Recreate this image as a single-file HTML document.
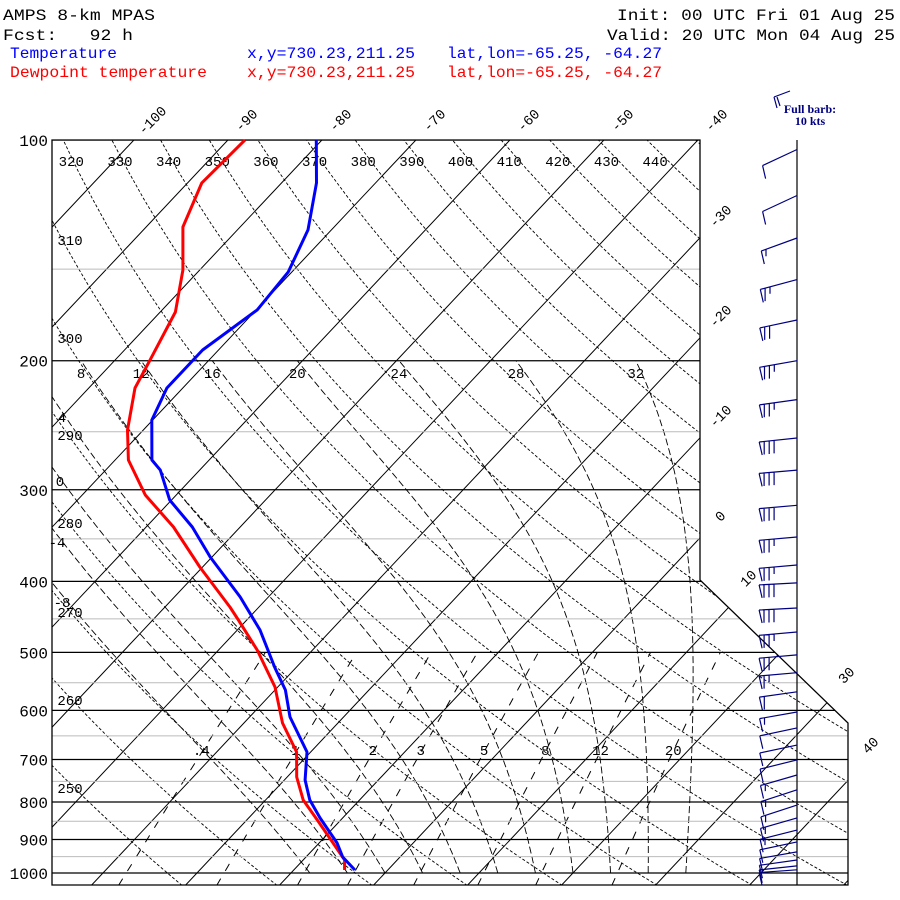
<!DOCTYPE html>
<html><head><meta charset="utf-8">
<style>
html,body{margin:0;padding:0;background:#fff;}
svg{display:block;font-family:"Liberation Mono","DejaVu Sans Mono",monospace;}
</style></head>
<body>
<svg id="chart" width="900" height="900" viewBox="0 0 900 900" xmlns="http://www.w3.org/2000/svg">
<defs><clipPath id="plotclip"><polygon points="52,140 700,140 700,580 848,723 848,885 52,885"/></clipPath></defs>
<g font-size="16">
<text x="3" y="20" textLength="152" lengthAdjust="spacingAndGlyphs">AMPS 8-km MPAS</text>
<text x="3" y="40" textLength="130" lengthAdjust="spacingAndGlyphs" xml:space="preserve">Fcst:   92 h</text>
<text x="617" y="20" textLength="278" lengthAdjust="spacingAndGlyphs">Init: 00 UTC Fri 01 Aug 25</text>
<text x="607" y="40" textLength="288" lengthAdjust="spacingAndGlyphs">Valid: 20 UTC Mon 04 Aug 25</text>
<text x="10" y="58" fill="#0000ff" textLength="107" lengthAdjust="spacingAndGlyphs">Temperature</text>
<text x="247" y="58" fill="#0000ff" textLength="168" lengthAdjust="spacingAndGlyphs">x,y=730.23,211.25</text>
<text x="447" y="58" fill="#0000ff" textLength="215" lengthAdjust="spacingAndGlyphs">lat,lon=-65.25, -64.27</text>
<text x="10" y="77" fill="#ff0000" textLength="197" lengthAdjust="spacingAndGlyphs">Dewpoint temperature</text>
<text x="247" y="77" fill="#ff0000" textLength="168" lengthAdjust="spacingAndGlyphs">x,y=730.23,211.25</text>
<text x="447" y="77" fill="#ff0000" textLength="215" lengthAdjust="spacingAndGlyphs">lat,lon=-65.25, -64.27</text>
</g>
<g id="grid"></g>
<g id="labels" font-size="14"></g>
<g id="profiles"></g>
<g id="barbs"></g>
<g>
<text x="810" y="113" font-family="Liberation Serif,serif" font-size="12" font-weight="bold" fill="#000080" text-anchor="middle">Full barb:</text>
<text x="810" y="125" font-family="Liberation Serif,serif" font-size="12" font-weight="bold" fill="#000080" text-anchor="middle">10 kts</text>
<path d="M790,91 L774,97 M774,97 L777,108 M777,97 L780,106" stroke="#000080" fill="none" stroke-width="1.2"/>
</g>
</svg>
<script>
// ---- data ----
const tempP = [100,114.4,132.6,151.3,170.5,193.4,217.9,241,273.2,282,309.8,337.2,370.5,420.2,466.1,525.2,562.7,612.6,683.8,746.7,795.1,841.3,910,951,990.6];
const tempT = [-80.6,-76.3,-72.5,-70.4,-69.9,-71.7,-71.7,-70.1,-66.1,-64.2,-60.2,-55.1,-50.2,-43.0,-37.6,-32.2,-28.9,-25.7,-20.4,-17.8,-15.3,-12.4,-8.1,-6.1,-3.5];
const dewP = [100,114.4,131.4,150.4,171.6,199.5,217.9,248.6,273.2,305,337.2,382.4,433.6,451.6,496.3,557.5,624.2,683.8,739.6,795.1,846.6,907.2,960,990.6];
const dewT = [-88.2,-88.5,-86.1,-81.8,-78.4,-76.3,-75.1,-71.7,-68.6,-63.3,-57.1,-50.3,-43.1,-40.9,-35.9,-30.3,-25.9,-21.5,-19.0,-16.0,-12.5,-8.7,-5.6,-4.6];
const barbP = [103,119,136,155,176,200,226,255,282,315,348,380,402,435,469,504,533,566,603,634,669,701,735,770,808,841,874,907,936,960,978,990];
const barbSpd = [10,10,15,25,30,35,35,40,40,40,35,35,40,40,35,30,25,20,15,10,10,10,15,15,15,15,15,10,10,10,10,10];
const barbTilt = [25,25,20,15,12,10,8,6,5,5,5,5,3,3,5,5,5,8,10,12,12,14,16,18,18,16,14,12,10,8,6,4];
const isobars = [100,200,300,400,500,600,700,800,900,1000];
const isobarsMinor = [150,250,350,450,550,650,750,850,950];
const isotherms = [-140,-130,-120,-110,-100,-90,-80,-70,-60,-50,-40,-30,-20,-10,0,10,20,30,40,50];
const topTempLabels = [-100,-90,-80,-70,-60,-50,-40];
const sideTempLabels = [-30,-20,-10,0];
const thetas = [250,260,270,280,290,300,310,320,330,340,350,360,370,380,390,400,410,420,430,440,450,460];
const topThetaLabels = [320,330,340,350,360,370,380,390,400,410,420,430,440];
const thetaW = [-8,-4,0,4,8,12,16,20,24,28,32];
const thetaWLabels = [8,12,16,20,24,28,32];
const mixRatios = [0.4,1,2,3,5,8,12,20];
const mixLabels = ['.4','1','2','3','5','8','12','20'];

// ---- axes ----
const NS='http://www.w3.org/2000/svg';
function yP(p){return 873-318.3*Math.log(1000/p);}
function xT(T,p){return 385+9.4*T+0.94*(873-yP(p));}
function xRight(y){return y<=580?700:(y<=723?700+(y-580)*148/143:848);}
function mk(tag,attrs,parent){const e=document.createElementNS(NS,tag);for(const k in attrs)e.setAttribute(k,attrs[k]);parent.appendChild(e);return e;}
const grid=document.getElementById('grid');
const labels=document.getElementById('labels');
const clipG=mk('g',{'clip-path':'url(#plotclip)'},grid);



// minor isobars
isobarsMinor.forEach(p=>{const y=yP(p);
 const l=mk('line',{x1:52,y1:y,x2:xRight(y),y2:y,stroke:'#bbbbbb','stroke-width':1},grid);
 
 
});
// isotherms
isotherms.forEach(T=>{
 const d='M'+xT(T,1000*Math.exp(-(873-885)/318.3)).toFixed(1)+','+885+' L'+xT(T,100).toFixed(1)+',140';
 const l=mk('path',{d:d,stroke:'#000','stroke-width':1,fill:'none'},clipG);
 
 
});
// dry adiabats
thetas.forEach(th=>{let d='';
 for(let p=1040;p>=100;p-=10){const T=th*Math.pow(p/1000,0.286)-273.15;d+=(d?' L':'M')+xT(T,p).toFixed(1)+','+yP(p).toFixed(1);}
 const l=mk('path',{d:d,stroke:'#000','stroke-width':0.9,fill:'none','stroke-dasharray':'3,2'},clipG);
 
 
});
// moist adiabats
function es(Tc){return 6.112*Math.exp(17.67*Tc/(Tc+243.5));}
const moistTop={};
thetaW.forEach(tw=>{let T=tw+273.15,p=1000;let d='M'+xT(tw,1000).toFixed(1)+','+yP(1000).toFixed(1);
 // extend slightly below 1000
 while(p>200){const dp=-5;const e=es(T-273.15);const rs=0.622*e/(p-e);
  const Lv=2.501e6,Rd=287,cp=1005;
  const dTdp=((Rd*T+Lv*rs)/(cp+Lv*Lv*rs*0.622/(Rd*T*T)))/p;
  T+=dTdp*dp;p+=dp;d+=' L'+xT(T-273.15,p).toFixed(1)+','+yP(p).toFixed(1);}
 moistTop[tw]=xT(T-273.15,200);
 const l=mk('path',{d:d,stroke:'#000','stroke-width':0.9,fill:'none','stroke-dasharray':'7,3'},clipG);
 
 
});
// mixing ratio lines
function tdFromW(w,p){const e=w*p/(622+w);const a=Math.log(e/6.112);return 243.5*a/(17.67-a);}
const mixX={};
mixRatios.forEach(w=>{let d='';
 for(let p=1040;p>=500;p-=20){d+=(d?' L':'M')+xT(tdFromW(w,p),p).toFixed(1)+','+yP(p).toFixed(1);}
 mixX[w]=xT(tdFromW(w,700),700);
 const l=mk('path',{d:d,stroke:'#000','stroke-width':1,fill:'none','stroke-dasharray':'8,9'},clipG);
 
 
});
// major isobars
isobars.forEach(p=>{const y=yP(p);
 const l=mk('line',{x1:52,y1:y,x2:xRight(y),y2:y,stroke:'#000','stroke-width':1.2},grid);
 
 
 const t=mk('text',{x:48,y:y+6,'text-anchor':'end','font-size':16},labels);t.textContent=p;
 
 
});
// frame
const fr=mk('polygon',{points:'52,140 700,140 700,580 848,723 848,885 52,885',fill:'none',stroke:'#000','stroke-width':1.3},grid);



// labels
topTempLabels.forEach(T=>{const x=xT(T,100)+18;
 const t=mk('text',{x:x,y:125,'text-anchor':'middle',transform:'rotate(-45 '+x+' 120)'},labels);t.textContent=T;
 
 
});
sideTempLabels.forEach(T=>{const h=(700-385-9.4*T)/0.94;const y=873-h-22;
 const t=mk('text',{x:720,y:y+5,'text-anchor':'middle',transform:'rotate(-45 720 '+y+')'},labels);t.textContent=T;
 
 
});
[[10,748,578],[30,846,675],[40,870,745]].forEach(a=>{
 const t=mk('text',{x:a[1],y:a[2]+5,'text-anchor':'middle',transform:'rotate(-45 '+a[1]+' '+a[2]+')'},labels);t.textContent=a[0];
 
 
});
topThetaLabels.forEach(th=>{const T=th*Math.pow(0.1,0.286)-273.15;const x=xT(T,100)+8;
 const t=mk('text',{x:x,y:166,'text-anchor':'middle'},labels);t.textContent=th;
 
 
});
[[310,240],[300,338],[290,435],[280,523],[270,612],[260,700],[250,788]].forEach(a=>{
 const t=mk('text',{x:70,y:a[1]+5,'text-anchor':'middle'},labels);t.textContent=a[0];
 
 
});
thetaWLabels.forEach(tw=>{const x=moistTop[tw];
 const t=mk('text',{x:x,y:378,'text-anchor':'middle'},labels);t.textContent=tw;
 
 
});
[['4',62,417],['0',60,481],['-4',57,542],['-8',62,602]].forEach(a=>{
 const t=mk('text',{x:a[1],y:a[2]+5,'text-anchor':'middle'},labels);t.textContent=a[0];
 
 
});
mixRatios.forEach((w,i)=>{
 const t=mk('text',{x:mixX[w]+4,y:755,'text-anchor':'middle'},labels);t.textContent=mixLabels[i];
 
 
});

// profiles
const prof=document.getElementById('profiles');
function line(P,T,color,name){let d='';P.forEach((p,i)=>{d+=(i?' L':'M')+xT(T[i],p).toFixed(1)+','+yP(p).toFixed(1);});
 const l=mk('path',{d:d,stroke:color,'stroke-width':3,fill:'none','stroke-linejoin':'round'},prof);
 
 
}
line(dewP,dewT,'#ff0000','dewpoint-line');
line(tempP,tempT,'#0000ff','temperature-line');

// barbs
const bg=document.getElementById('barbs');
const staff=mk('line',{x1:797,y1:140,x2:797,y2:885,stroke:'#000','stroke-width':1.2},bg);


barbP.forEach((p,i)=>{const y=yP(p);const a=barbTilt[i]*Math.PI/180;const L=38;
 const dx=-Math.cos(a),dy=Math.sin(a);const tx=797+dx*L,ty=y+dy*L;
 let d='M797,'+y.toFixed(1)+' L'+tx.toFixed(1)+','+ty.toFixed(1);
 let s=barbSpd[i];let k=0;
 while(s>=10){const px=tx-dx*k*5,py=ty-dy*k*5;d+=' M'+px.toFixed(1)+','+py.toFixed(1)+' l'+(k===0?3:0)+',13';s-=10;k++;}
 if(s>=5){const px=tx-dx*k*5,py=ty-dy*k*5;d+=' M'+px.toFixed(1)+','+py.toFixed(1)+' l0,7';}
 const b=mk('path',{d:d,stroke:'#000080','stroke-width':1.2,fill:'none'},bg);
 
 
});
</script>
</body></html>
